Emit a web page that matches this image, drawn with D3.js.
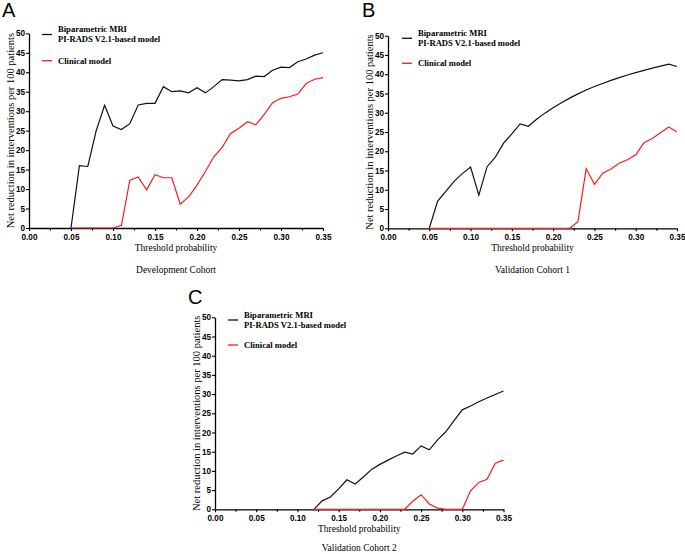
<!DOCTYPE html>
<html>
<head>
<meta charset="utf-8">
<script src="https://cdn.jsdelivr.net/npm/d3@7"></script>
<style>
  html, body { margin: 0; padding: 0; background: #fff; }
  svg { display: block; }
</style>
</head>
<body>
<svg id="chart" width="685" height="554"></svg>
<script>
// ---------- data ----------
const thresholds = [0.00,0.01,0.02,0.03,0.04,0.05,0.06,0.07,0.08,0.09,0.10,0.11,0.12,0.13,0.14,0.15,0.16,0.17,0.18,0.19,0.20,0.21,0.22,0.23,0.24,0.25,0.26,0.27,0.28,0.29,0.30,0.31,0.32,0.33,0.34,0.35];

// null = not drawn (curve starts later)
const devMRI  = [null,null,null,null,null,0,16,15.8,25,31.5,26.2,25.3,26.8,31.6,32,32,36.3,35,35.2,34.7,36,34.7,36.3,38.1,38,37.8,38.1,39,38.9,40.5,41.3,41.2,42.7,43.4,44.4,45];
const devClin = [null,null,null,null,null,0,0,0,0,0,0,0.7,12.2,13.1,9.8,13.7,12.9,12.9,6.1,8,11,14.5,18.3,20.7,24.3,25.6,27.3,26.5,29.2,32.2,33.3,33.7,34.4,37.1,38.2,38.6];

const val1MRI  = [null,null,null,null,null,0,7,9.6,12.2,14.2,15.9,8.6,16,18.5,22.1,24.5,27.1,26.5,28.3,29.9,31.3,32.6,33.8,34.9,35.9,36.8,37.6,38.4,39.1,39.8,40.4,41,41.6,42.1,42.6,42];
const val1Clin = [null,null,null,null,null,0,0,0,0,0,0,0,0,0,0,0,0,0,0,0,0,0,0,1.7,15.5,11.4,14.3,15.4,16.9,17.8,19.1,22.2,23.3,24.8,26.3,25];

const val2MRI  = [null,null,null,null,null,null,null,null,null,null,null,null,0,2.2,3.2,5.3,7.7,6.6,8.4,10.4,11.7,12.8,13.9,14.9,14.4,16.5,15.5,18.1,20.2,23.1,25.9,26.9,28,29,29.9,30.8];
const val2Clin = [null,null,null,null,null,null,null,null,null,null,null,null,0,0,0,0,0,0,0,0,0,0,0,0,2.1,3.8,1.4,0.3,0,0,0,4.8,7,7.8,12,12.8];

const xTicks = [0,0.05,0.10,0.15,0.20,0.25,0.30,0.35];
const xMinorTicks = [0.025,0.075,0.125,0.175,0.225,0.275,0.325];
const yTicks = [0,5,10,15,20,25,30,35,40,45,50];

const seriesNames = ["Biparametric MRI", "PI-RADS V2.1-based model", "Clinical model"];
const panelLetters = ["A","B","C"];
const cohortTitles = ["Development Cohort","Validation Cohort 1","Validation Cohort 2"];
const xTitle = "Threshold probability";
const yTitle = "Net reduction in interventions per 100 patients";

// ---------- layout ----------
const panels = [
  { letter: panelLetters[0], title: cohortTitles[0], mri: devMRI,  clin: devClin,
    x0: 29,  x1: 323,   yT: 33.3, yB: 228,   lx: 42,  ly: 34.5, ry: 60.7, letterX: 2,   letterY: 17,  titleY: 251, cohortY: 273 },
  { letter: panelLetters[1], title: cohortTitles[1], mri: val1MRI, clin: val1Clin,
    x0: 388, x1: 677,   yT: 35.7, yB: 228.3, lx: 402, ly: 38.3, ry: 63.3, letterX: 362, letterY: 17,  titleY: 251, cohortY: 273 },
  { letter: panelLetters[2], title: cohortTitles[2], mri: val2MRI, clin: val2Clin,
    x0: 215, x1: 503.5, yT: 317.3, yB: 509.3, lx: 228, ly: 320, ry: 345, letterX: 188, letterY: 304, titleY: 532, cohortY: 551 }
];

const svg = d3.select("#chart");
const serif = "'Liberation Serif','Times New Roman',serif";
const sans = "'Liberation Sans',Arial,Helvetica,sans-serif";

panels.forEach(p => {
  const g = svg.append("g");
  const x = d3.scaleLinear().domain([0, 0.35]).range([p.x0, p.x1]);
  const y = d3.scaleLinear().domain([0, 50]).range([p.yB, p.yT]);

  const xa = g.append("g").attr("transform", `translate(0,${p.yB})`)
    .call(d3.axisBottom(x).tickValues(xTicks).tickFormat(d3.format(".2f")).tickSize(3).tickSizeOuter(0).tickPadding(3));
  g.append("g").attr("transform", `translate(0,${p.yB})`)
    .call(d3.axisBottom(x).tickValues(xMinorTicks).tickFormat("").tickSize(2.5).tickSizeOuter(0))
    .select(".domain").remove();
  const ya = g.append("g").attr("transform", `translate(${p.x0},0)`)
    .call(d3.axisLeft(y).tickValues(yTicks).tickFormat(d3.format("d")).tickSize(3).tickSizeOuter(0).tickPadding(1));

  [xa, ya].forEach(a => {
    a.select(".domain").attr("stroke", "#000").attr("stroke-width", 1.3);
    a.selectAll(".tick text").attr("fill", "#000").style("font-family", sans)
      .style("font-weight", "bold").style("font-size", "8.2px");
  });
  g.selectAll("g.tick line").attr("stroke", "#000").attr("stroke-width", 1.1);

  const line = d3.line().defined(d => d !== null).x((d, i) => x(thresholds[i])).y(d => y(d));
  g.append("path").datum(p.mri).attr("d", line)
    .attr("fill", "none").attr("stroke", "#111").attr("stroke-width", 1.2);
  g.append("path").datum(p.clin).attr("d", line)
    .attr("fill", "none").attr("stroke", "#ff1a1a").attr("stroke-width", 1.2);

  // legend
  const lg = g.append("g");
  lg.append("line").attr("x1", p.lx).attr("x2", p.lx + 10).attr("y1", p.ly).attr("y2", p.ly)
    .attr("stroke", "#111").attr("stroke-width", 1.3);
  lg.append("text").attr("x", p.lx + 16).attr("y", p.ly - 2.3).text(seriesNames[0])
    .style("font-family", serif).style("font-weight", "bold").style("font-size", "8.6px");
  lg.append("text").attr("x", p.lx + 16).attr("y", p.ly + 7.5).text(seriesNames[1])
    .style("font-family", serif).style("font-weight", "bold").style("font-size", "8.6px");
  lg.append("line").attr("x1", p.lx).attr("x2", p.lx + 10).attr("y1", p.ry).attr("y2", p.ry)
    .attr("stroke", "#ff1a1a").attr("stroke-width", 1.3);
  lg.append("text").attr("x", p.lx + 16).attr("y", p.ry + 3).text(seriesNames[2])
    .style("font-family", serif).style("font-weight", "bold").style("font-size", "8.6px");

  // titles
  g.append("text").attr("x", (p.x0 + p.x1) / 2).attr("y", p.titleY).attr("text-anchor", "middle")
    .text(xTitle).style("font-family", serif).style("font-size", "9.5px");
  g.append("text").attr("x", (p.x0 + p.x1) / 2).attr("y", p.cohortY).attr("text-anchor", "middle")
    .text(p.title).style("font-family", serif).style("font-size", "9.5px");
  g.append("text")
    .attr("transform", `translate(${p.x0 - 15.5},${(p.yT + p.yB) / 2}) rotate(-90)`)
    .attr("text-anchor", "middle").text(yTitle)
    .style("font-family", serif).style("font-size", "10.5px");
  g.append("text").attr("x", p.letterX).attr("y", p.letterY).text(p.letter)
    .style("font-family", sans).style("font-size", "20px");
});
</script>
</body>
</html>
